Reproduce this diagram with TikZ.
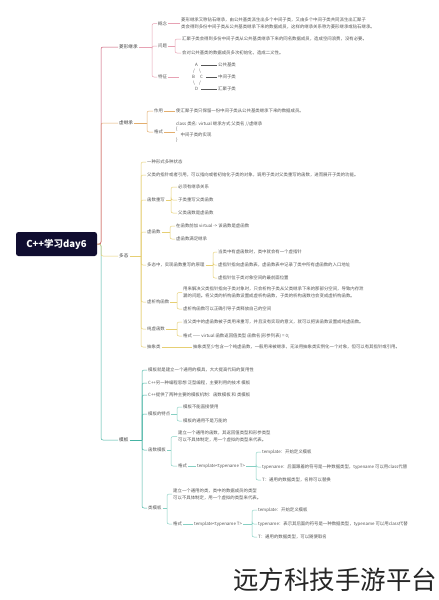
\documentclass[tikz,border=0pt]{standalone}
\usepackage{fontspec}
\setmainfont{Noto Sans CJK SC}
\definecolor{fondoRaiz}{HTML}{100D30}
\definecolor{lineaRosa}{HTML}{C8506E}
\definecolor{rosaClaro}{HTML}{E7A2B4}
\definecolor{lineaNaranja}{HTML}{E3AE6E}
\definecolor{lineaAmarilla}{HTML}{E6CF74}
\definecolor{lineaVerde}{HTML}{45B3A3}
\definecolor{verdeClaro}{HTML}{86D0C3}
\definecolor{textoGris}{HTML}{555555}

\begin{document}
\begin{tikzpicture}[
    x=1pt, y=-1pt,
    raiz/.style={rounded corners=2.5pt, fill=fondoRaiz, text=white, font=\fontsize{9.5}{10}\selectfont\bfseries, minimum width=81pt, minimum height=24pt, inner sep=0pt},
    tema/.style={anchor=west, inner sep=1pt, text=black!75, font=\fontsize{4.6}{5.5}\selectfont},
    hoja/.style={anchor=west, inner sep=1pt, text=textoGris, font=\fontsize{4.4}{7}\selectfont, align=left},
    rama/.style={line width=0.5pt, rounded corners=2pt},
    guion/.style={line width=0.4pt}
]
    \useasboundingbox (0,0) rectangle (439,600);
    \fill[white] (0,0) rectangle (439,600);

    % --- RAIZ Y TEMAS ---
    \node[raiz] (raiz) at (56.5,244) {C++学习day6};
    \coordinate (tronco) at (101,244);
    \node[tema] (rombo) at (118,47) {菱形继承};
    \node[tema] (virtual) at (118,123) {虚继承};
    \node[tema] (poli) at (118,256) {多态};
    \node[tema] (plantilla) at (118,440) {模板};
    \draw[rama, lineaVerde] (raiz.east) -- (tronco) |- (plantilla.west);
    \draw[rama, lineaNaranja] (raiz.east) -- (tronco) |- (virtual.west);
    \draw[rama, lineaAmarilla] (raiz.east) -- (tronco) |- (poli.west);
    \draw[rama, lineaRosa] (raiz.east) -- (tronco) |- (rombo.west);

    % --- 菱形继承 ---
    \coordinate (rB) at (152,47);
    \draw[rama, rosaClaro] (rombo.east) -- (rB);
    \node[hoja] (concepto) at (157,23.5) {概念};
    \node[hoja] (conceptoTxt) at (180,23.5) {菱形继承又称钻石继承，由公共基类派生出多个中间子类，又由多个中间子类共同派生出汇聚子\\类会得到多份中间子类从公共基类继承下来的数据成员，这样的继承关系称为菱形继承或钻石继承。};
    \node[hoja] (problema) at (157,46) {问题};
    \node[hoja] (prob1) at (181,39) {汇聚子类会得到多份中间子类从公共基类继承下来的同名数据成员，造成空间浪费，没有必要。};
    \node[hoja] (prob2) at (181,53) {会对公共基类的数据成员多次初始化，造成二义性。};
    \node[hoja] (rasgo) at (157,77) {特征};
    \coordinate (finRasgo) at (179,77);
    \draw[rama, rosaClaro] (rB) |- (concepto.west);
    \draw[rama, rosaClaro] (rB) |- (problema.west);
    \draw[rama, rosaClaro] (rB) |- (rasgo.west);
    \draw[guion, rosaClaro] (concepto.east) -- (conceptoTxt.west);
    \draw[guion, rosaClaro] (rasgo.east) -- (finRasgo);
    \coordinate (pB) at (175,46);
    \draw[rama, rosaClaro] (problema.east) -- (pB);
    \draw[rama, rosaClaro] (pB) |- (prob1.west);
    \draw[rama, rosaClaro] (pB) |- (prob2.west);
    % figura A / B C / D
    \node[hoja] (nA) at (194,65) {A};
    \node[hoja] (nB) at (191,77) {B};
    \node[hoja] (nC) at (199,77) {C};
    \node[hoja] (nD) at (194,89) {D};
    \node[hoja] (s1) at (192,71) {/};
    \node[hoja] (s2) at (198,71) {\textbackslash};
    \node[hoja] (s3) at (192,83) {\textbackslash};
    \node[hoja] (s4) at (198,83) {/};
    \node[hoja] (baseA) at (217,65) {公共基类};
    \node[hoja] (baseBC) at (217,77) {中间子类};
    \node[hoja] (baseD) at (217,89) {汇聚子类};
    \draw[guion, textoGris] (nA.east) ++(2,0) -- (baseA.west);
    \draw[guion, textoGris] (nC.east) ++(2,0) -- (baseBC.west);
    \draw[guion, textoGris] (nD.east) ++(2,0) -- (baseD.west);

    % --- 虚继承 ---
    \coordinate (vB) at (147,123);
    \draw[rama, lineaNaranja] (virtual.east) -- (vB);
    \node[hoja] (uso) at (153,111) {作用};
    \node[hoja] (usoTxt) at (175,111) {使汇聚子类只保留一份中间子类从公共基类继承下来的数据成员。};
    \node[hoja] (formato) at (153,132) {格式};
    \node[hoja, font=\fontsize{4.4}{5.4}\selectfont] (formatoTxt) at (175,132) {class 类名: virtual 继承方式 父类名 //虚继承\\\{\\\quad 中间子类的实现\\\}};
    \draw[rama, lineaNaranja] (vB) |- (uso.west);
    \draw[rama, lineaNaranja] (vB) |- (formato.west);
    \draw[guion, lineaNaranja] (uso.east) -- (usoTxt.west);
    \draw[guion, lineaNaranja] (formato.east) -- (formatoTxt.west);

    % --- 多态 ---
    \coordinate (dB) at (141,256);
    \draw[rama, lineaAmarilla] (poli.east) -- (dB);
    \node[hoja] (p1) at (146,162) {一种形式多种状态};
    \node[hoja] (p2) at (146,175) {父类的指针或者引用，可以指向或者初始化子类的对象，调用子类对父类重写的函数，进而展开子类的功能。};
    \node[hoja] (p3) at (146,200) {函数重写};
    \node[hoja] (p4) at (146,232) {虚函数};
    \node[hoja] (p5) at (146,265) {多态中，实现函数重写的原理};
    \node[hoja] (p6) at (146,302) {虚析构函数};
    \node[hoja] (p7) at (146,329) {纯虚函数};
    \node[hoja] (p8) at (146,347) {抽象类};
    \foreach \n in {p1,p2,p3,p4,p5,p6,p7,p8}
        \draw[rama, lineaAmarilla] (dB) |- (\n.west);
    % 函数重写
    \coordinate (p3B) at (171,200);
    \draw[rama, lineaAmarilla] (p3.east) -- (p3B);
    \node[hoja] (p3a) at (177,187) {必须有继承关系};
    \node[hoja] (p3b) at (177,200) {子类重写父类函数};
    \node[hoja] (p3c) at (177,213) {父类函数是虚函数};
    \foreach \n in {p3a,p3b,p3c}
        \draw[rama, lineaAmarilla] (p3B) |- (\n.west);
    % 虚函数
    \coordinate (p4B) at (170,232);
    \draw[rama, lineaAmarilla] (p4.east) -- (p4B);
    \node[hoja] (p4a) at (175,226) {在函数前加 virtual -> 该函数是虚函数};
    \node[hoja] (p4b) at (175,239) {虚函数满足继承};
    \foreach \n in {p4a,p4b}
        \draw[rama, lineaAmarilla] (p4B) |- (\n.west);
    % 原理
    \coordinate (p5B) at (213,265);
    \draw[rama, lineaAmarilla] (p5.east) -- (p5B);
    \node[hoja] (p5a) at (217,252) {当类中有虚函数时，类中就会有一个虚指针};
    \node[hoja] (p5b) at (217,265) {虚指针指向虚函数表，虚函数表中记录了类中所有虚函数的入口地址};
    \node[hoja] (p5c) at (217,278) {虚指针位于类对象空间的最前面位置};
    \foreach \n in {p5a,p5b,p5c}
        \draw[rama, lineaAmarilla] (p5B) |- (\n.west);
    % 虚析构函数
    \coordinate (p6B) at (177,302);
    \draw[rama, lineaAmarilla] (p6.east) -- (p6B);
    \node[hoja] (p6a) at (182,292.5) {用来解决父类指针指向子类对象时，只会析构子类从父类继承下来的那部分空间，导致内存泄\\漏的问题。将父类的析构函数设置成虚析构函数，子类的析构函数也会变成虚析构函数。};
    \node[hoja] (p6b) at (182,309) {虚析构函数可以正确引导子类释放自己的空间};
    \foreach \n in {p6a,p6b}
        \draw[rama, lineaAmarilla] (p6B) |- (\n.west);
    % 纯虚函数
    \coordinate (p7B) at (177,329);
    \draw[rama, lineaAmarilla] (p7.east) -- (p7B);
    \node[hoja] (p7a) at (182,322) {当父类中的虚函数被子类用来重写，并且没有实现的意义，就可以把该函数设置成纯虚函数。};
    \node[hoja] (p7b) at (182,336) {格式 —— virtual 函数返回值类型 函数名(形参列表) = 0;};
    \foreach \n in {p7a,p7b}
        \draw[rama, lineaAmarilla] (p7B) |- (\n.west);
    % 抽象类
    \node[hoja] (p8a) at (192,347) {抽象类至少包含一个纯虚函数，一般用来被继承，无法用抽象类实例化一个对象，但可以有其指针或引用。};
    \draw[guion, lineaAmarilla] (p8.east) -- (p8a.west);

    % --- 模板 ---
    \coordinate (tB) at (142,440);
    \draw[rama, lineaVerde] (plantilla.east) -- (tB);
    \node[hoja] (t1) at (147,370) {模板就是建立一个通用的模具，大大提高代码的复用性};
    \node[hoja] (t2) at (147,383) {C++另一种编程思想 泛型编程，主要利用的技术 模板};
    \node[hoja] (t3) at (147,395) {C++提供了两种主要的模板机制：函数模板 和 类模板};
    \node[hoja] (t4) at (147,414) {模板的特点};
    \node[hoja] (t5) at (147,450) {函数模板};
    \node[hoja] (t6) at (147,508) {类模板};
    \foreach \n in {t1,t2,t3,t4,t5,t6}
        \draw[rama, lineaVerde] (tB) |- (\n.west);
    % 模板的特点
    \coordinate (t4B) at (177,414);
    \draw[rama, verdeClaro] (t4.east) -- (t4B);
    \node[hoja] (t4a) at (182,407) {模板不能直接使用};
    \node[hoja] (t4b) at (182,421) {模板的通用不是万能的};
    \foreach \n in {t4a,t4b}
        \draw[rama, verdeClaro] (t4B) |- (\n.west);
    % 函数模板
    \coordinate (t5B) at (171,450);
    \draw[rama, verdeClaro] (t5.east) -- (t5B);
    \node[hoja] (t5a) at (177,436.5) {建立一个通用的函数，其返回值类型和形参类型\\可以不具体制定，用一个虚拟的类型来代表。};
    \node[hoja] (t5f) at (177,466) {格式};
    \node[hoja] (t5g) at (196,466) {template<typename T>};
    \foreach \n in {t5a,t5f}
        \draw[rama, verdeClaro] (t5B) |- (\n.west);
    \draw[guion, verdeClaro] (t5f.east) -- (t5g.west);
    \coordinate (t5gB) at (256,466);
    \draw[rama, verdeClaro] (t5g.east) -- (t5gB);
    \node[hoja] (t5x) at (261,452) {template：开始定义模板};
    \node[hoja] (t5y) at (261,467) {typename：后面跟着的符号是一种数据类型，typename 可以用class代替};
    \node[hoja] (t5z) at (261,480) {T：通用的数据类型，名称可以替换};
    \foreach \n in {t5x,t5y,t5z}
        \draw[rama, verdeClaro] (t5gB) |- (\n.west);
    % 类模板
    \coordinate (t6B) at (167,508);
    \draw[rama, verdeClaro] (t6.east) -- (t6B);
    \node[hoja] (t6a) at (172,494) {建立一个通用的类，类中的数据成员的类型\\可以不具体制定，用一个虚拟的类型来代表。};
    \node[hoja] (t6f) at (172,524) {格式};
    \node[hoja] (t6g) at (193,524) {template<typename T>};
    \foreach \n in {t6a,t6f}
        \draw[rama, verdeClaro] (t6B) |- (\n.west);
    \draw[guion, verdeClaro] (t6f.east) -- (t6g.west);
    \coordinate (t6gB) at (252,524);
    \draw[rama, verdeClaro] (t6g.east) -- (t6gB);
    \node[hoja] (t6x) at (257,510) {template：开始定义模板};
    \node[hoja] (t6y) at (257,524) {typename：表示其后面的符号是一种数据类型，typename 可以用class代替};
    \node[hoja] (t6z) at (257,537) {T：通用的数据类型，可以随便取名};
    \foreach \n in {t6x,t6y,t6z}
        \draw[rama, verdeClaro] (t6gB) |- (\n.west);

    % --- marca ---
    \node[font=\fontsize{25.5}{26}\selectfont, text=black!85, inner sep=0pt] (marca) at (335,580) {远方科技手游平台};
\end{tikzpicture}
\end{document}
